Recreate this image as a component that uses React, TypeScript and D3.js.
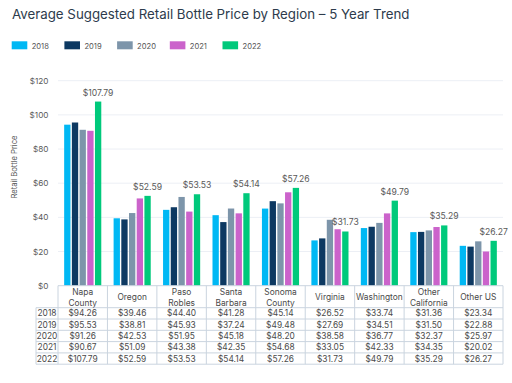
import React from "react";
import * as d3 from "d3";

const title = "Average Suggested Retail Bottle Price by Region – 5 Year Trend";
const regions = ["Napa County", "Oregon", "Paso Robles", "Santa Barbara", "Sonoma County", "Virginia", "Washington", "Other California", "Other US"];
const regionLines = [["Napa", "County"], ["Oregon"], ["Paso", "Robles"], ["Santa", "Barbara"], ["Sonoma", "County"], ["Virginia"], ["Washington"], ["Other", "California"], ["Other US"]];
const years = ["2018", "2019", "2020", "2021", "2022"];
const v2018 = [94.26, 39.46, 44.40, 41.28, 45.14, 26.52, 33.74, 31.36, 23.34];
const v2019 = [95.53, 38.81, 45.93, 37.24, 49.48, 27.69, 34.51, 31.50, 22.88];
const v2020 = [91.26, 42.53, 51.95, 45.18, 48.20, 38.58, 36.77, 32.37, 25.97];
const v2021 = [90.67, 51.09, 43.38, 42.35, 54.68, 33.05, 42.33, 34.35, 20.02];
const v2022 = [107.79, 52.59, 53.53, 54.14, 57.26, 31.73, 49.79, 35.29, 26.27];
const series = [v2018, v2019, v2020, v2021, v2022];
const colors = ["#00B8F4", "#0D3962", "#7D95AA", "#CB63CB", "#00C97B"];
const yTicks = [0, 20, 40, 60, 80, 100, 120];

const W = 512, H = 383;
const plotL = 58, plotR = 503, plotT = 80.7, plotB = 285.7;
const rowLabelL = 36;
const headerH = 22;
const rowH = 11.3;
const border = "#CAD4DF";
const textCol = "#4A4A4A";
const font = "Inter, 'Open Sans', sans-serif";

export default function App() {
  const x = d3.scaleBand<string>().domain(regions).range([plotL, plotR]).paddingInner(0).paddingOuter(0);
  const inner = d3.scaleBand<string>().domain(years).range([0, x.bandwidth()]).paddingInner(0.18).paddingOuter(0.8);
  const y = d3.scaleLinear().domain([0, 120]).range([plotB, plotT]);
  const fmt = (v: number) => "$" + v.toFixed(2);
  const tableTop = plotB;
  const rowsTop = tableTop + headerH;

  return (
    <svg width={W} height={H} style={{ position: "absolute", left: 0, top: 0, background: "#fff" }} fontFamily={font}>
      <text x={12} y={19} fontSize={13.3} fill="#2D3B4C">{title}</text>
      {years.map((yr, i) => (
        <g key={yr} transform={`translate(${11.7 + i * 52.7},41.3)`}>
          <rect width={15.6} height={8} fill={colors[i]} />
          <text x={20} y={7.3} fontSize={7.6} fill="#555">{yr}</text>
        </g>
      ))}
      {yTicks.map((t) => (
        <g key={t}>
          {t > 0 && <line x1={plotL} x2={plotR} y1={y(t)} y2={y(t)} stroke="#ECEFF5" strokeWidth={1} />}
          <text x={48.5} y={y(t) + 3} fontSize={8.2} fill="#595959" textAnchor="end">{"$" + t}</text>
        </g>
      ))}
      <text transform={`translate(17,167) rotate(-90)`} fontSize={7.6} fill="#595959" textAnchor="middle">Retail Bottle Price</text>
      {regions.map((r, ri) => (
        <g key={r} transform={`translate(${x(r)},0)`}>
          {years.map((yr, si) => {
            const v = series[si][ri];
            return <rect key={yr} x={inner(yr)} y={y(v)} width={inner.bandwidth()} height={plotB - y(v)} fill={colors[si]} />;
          })}
          <text x={(inner("2022") as number) + inner.bandwidth() / 2} y={y(v2022[ri]) - 6} fontSize={8.6} fill="#595959" textAnchor="middle">{fmt(v2022[ri])}</text>
        </g>
      ))}
      <g>
        <line x1={plotL} x2={plotR} y1={tableTop} y2={tableTop} stroke={border} />
        {d3.range(regions.length + 1).map((i) => {
          const xx = plotL + i * x.bandwidth();
          return <line key={i} x1={xx} x2={xx} y1={tableTop} y2={rowsTop + rowH * 5} stroke={border} />;
        })}
        <line x1={rowLabelL} x2={rowLabelL} y1={rowsTop} y2={rowsTop + rowH * 5} stroke={border} />
        {d3.range(6).map((i) => (
          <line key={i} x1={rowLabelL} x2={plotR} y1={rowsTop + i * rowH} y2={rowsTop + i * rowH} stroke={border} />
        ))}
        {regions.map((r, ri) => {
          const lines = regionLines[ri];
          const cx = (x(r) as number) + x.bandwidth() / 2;
          return (
            <text key={r} fontSize={8.4} fill={textCol} textAnchor="middle">
              {lines.map((l, li) => (
                <tspan key={li} x={cx} y={lines.length === 1 ? tableTop + 14.5 : tableTop + 9.5 + li * 10.5}>{l}</tspan>
              ))}
            </text>
          );
        })}
        {years.map((yr, si) => (
          <g key={yr}>
            <text x={(rowLabelL + plotL) / 2} y={rowsTop + si * rowH + 8.6} fontSize={8.4} fill={textCol} textAnchor="middle">{yr}</text>
            {regions.map((r, ri) => (
              <text key={r} x={(x(r) as number) + x.bandwidth() / 2} y={rowsTop + si * rowH + 8.6} fontSize={8.4} fill={textCol} textAnchor="middle">{fmt(series[si][ri])}</text>
            ))}
          </g>
        ))}
      </g>
    </svg>
  );
}
